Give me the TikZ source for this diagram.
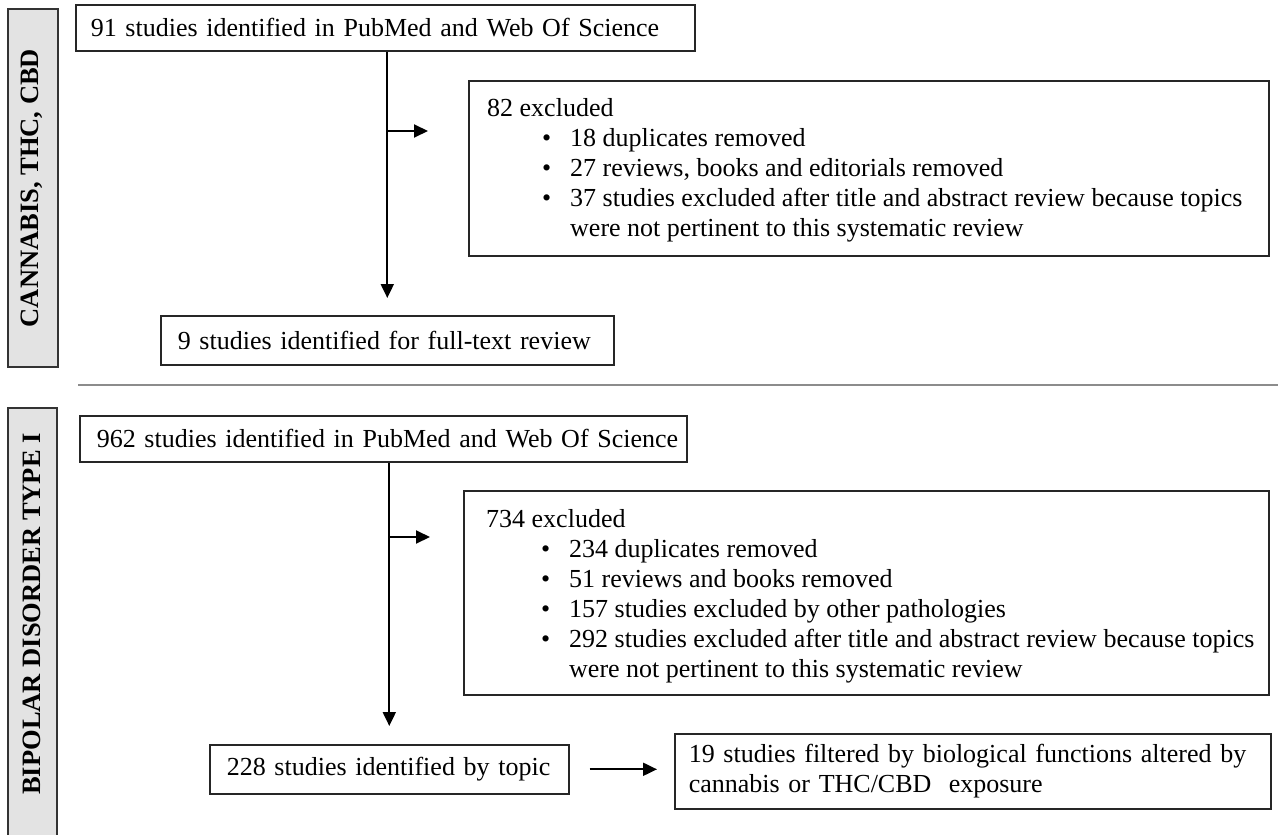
\documentclass[tikz,border=0pt]{standalone}
\usepackage{fontspec}
\setmainfont{Liberation Serif}
\usetikzlibrary{arrows.meta}
\newcommand{\exbul}{\hspace*{55pt}\makebox[28pt][l]{•}}
\newcommand{\exind}{\hspace*{83pt}}
\begin{document}
\begin{tikzpicture}[x=1pt,y=-1pt,
  box/.style={draw=black!85, line width=1.6pt, fill=white, inner sep=0pt},
  txt/.style={font=\fontsize{26}{30}\selectfont, inner sep=0pt, align=left},
  side/.style={draw=black!80, line width=1.6pt, fill=gray!22, inner sep=0pt},
  sidetxt/.style={font=\fontsize{26.5}{32}\selectfont\bfseries, rotate=90, inner sep=0pt},
  arr/.style={line width=2pt, -{Triangle[length=14pt,width=13pt]}},
  ln/.style={line width=2pt},
  sep/.style={line width=2pt, draw=black!45},
]
\useasboundingbox (0,0) rectangle (1278,835);

% side labels
\node[side, anchor=north west, minimum width=50, minimum height=358] (s1) at (7,8) {};
\node[sidetxt] (s1t) at (32,188) {CANNABIS, THC, CBD};
\node[side, anchor=north west, minimum width=49, minimum height=440] (s2) at (7,407) {};
\node[sidetxt] (s2t) at (32,614) {BIPOLAR DISORDER TYPE I};

% separator
\coordinate (sepL) at (78,385);
\coordinate (sepR) at (1278,385);
\draw[sep] (sepL) -- (sepR);

% top section
\node[box, txt, anchor=north west, minimum height=46, inner xsep=15, text width=589] (b1) at (75,4)
  {\mbox{91 studies identified in PubMed and Web Of Science}};
\node[box, anchor=north west, minimum width=800, minimum height=175] (ex1) at (468,80) {};
\node[txt, anchor=north west] (ex1t) at (487,98)
  {82 excluded\\
   \exbul 18 duplicates removed\\
   \exbul 27 reviews, books and editorials removed\\
   \exbul 37 studies excluded after title and abstract review because topics\\
   \exind were not pertinent to this systematic review};
\node[box, txt, anchor=north west, minimum height=49, inner xsep=17, text width=419] (b9) at (160,315)
  {\mbox{9 studies identified for full-text review}};

\coordinate (j1) at (386.5,131);
\coordinate (e1) at (428,131);
\draw[arr, shorten >=17pt] (b1.south -| b9.north) -- (b9.north);
\draw[arr] (j1) -- (e1);

% bottom section
\node[box, txt, anchor=north west, minimum height=46, inner xsep=17, text width=573] (b2) at (79,415)
  {\mbox{962 studies identified in PubMed and Web Of Science}};
\node[box, anchor=north west, minimum width=805, minimum height=204] (ex2) at (463,490) {};
\node[txt, anchor=north west] (ex2t) at (486,509)
  {734 excluded\\
   \exbul 234 duplicates removed\\
   \exbul 51 reviews and books removed\\
   \exbul 157 studies excluded by other pathologies\\
   \exbul 292 studies excluded after title and abstract review because topics\\
   \exind were not pertinent to this systematic review};
\node[box, txt, anchor=north west, minimum height=49, inner xsep=17, text width=325] (b228) at (209,744)
  {\mbox{228 studies identified by topic}};
\node[box, txt, anchor=north west, minimum height=75, inner xsep=14, text width=568] (b19) at (674,733)
  {\mbox{19 studies filtered by biological functions altered by}\\
   \mbox{cannabis or THC/CBD~ exposure}};

\coordinate (j2) at (388.5,537);
\coordinate (e2) at (430,537);
\draw[arr, shorten >=18pt] (b2.south -| b228.north) -- (b228.north);
\draw[arr] (j2) -- (e2);
\draw[arr, shorten <=20pt, shorten >=17pt] (b228.east) -- (b228.east -| b19.west);
\end{tikzpicture}
\end{document}
